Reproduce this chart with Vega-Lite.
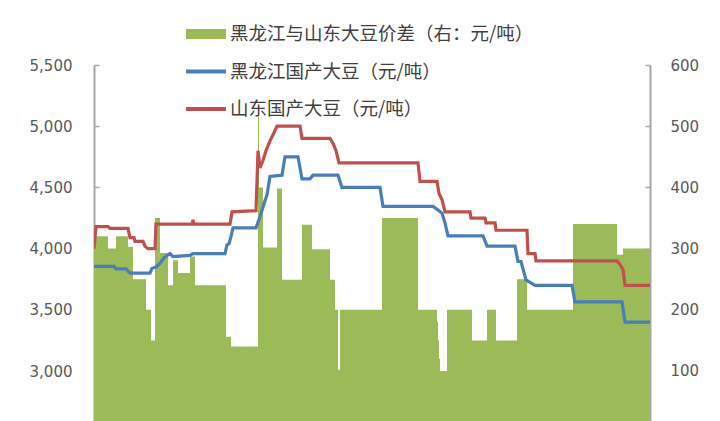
{
  "$schema": "https://vega.github.io/schema/vega-lite/v6.json",
  "width": 556,
  "height": 356,
  "autosize": {"type": "none"},
  "padding": {"left": 94, "top": 65, "right": 70, "bottom": 0},
  "background": "white",
  "config": {
    "view": {"stroke": null},
    "axis": {
      "labelFont": "DejaVu Sans",
      "labelFontSize": 15,
      "labelColor": "#595959",
      "domainColor": "#a6a6a6",
      "domainWidth": 2,
      "tickColor": "#a6a6a6",
      "tickWidth": 1.5,
      "grid": false,
      "title": null
    },
    "legend": {
      "labelFont": "Noto Sans CJK SC",
      "labelFontSize": 18.5,
      "labelColor": "#404040",
      "labelLimit": 500
    }
  },
  "datasets": {
    "spread": [
      {"t": 0, "v": 320}, {"t": 14, "v": 300}, {"t": 22, "v": 320}, {"t": 34, "v": 303},
      {"t": 39, "v": 250}, {"t": 52, "v": 200}, {"t": 57, "v": 150}, {"t": 61, "v": 350},
      {"t": 66, "v": 293}, {"t": 74, "v": 240}, {"t": 79, "v": 281}, {"t": 84, "v": 260},
      {"t": 96, "v": 287}, {"t": 101, "v": 240}, {"t": 132, "v": 156}, {"t": 137, "v": 140},
      {"t": 164, "v": 515}, {"t": 165, "v": 400}, {"t": 169, "v": 302}, {"t": 183, "v": 398},
      {"t": 188, "v": 249}, {"t": 208, "v": 339}, {"t": 218, "v": 299}, {"t": 236, "v": 249},
      {"t": 241, "v": 200}, {"t": 244, "v": 102}, {"t": 246, "v": 200}, {"t": 288, "v": 350},
      {"t": 324, "v": 200}, {"t": 343, "v": 180}, {"t": 344, "v": 150}, {"t": 345, "v": 120},
      {"t": 346, "v": 100}, {"t": 353, "v": 200}, {"t": 378, "v": 150}, {"t": 393, "v": 200},
      {"t": 402, "v": 150}, {"t": 423, "v": 250}, {"t": 433, "v": 200}, {"t": 479, "v": 340},
      {"t": 523, "v": 290}, {"t": 529, "v": 300}, {"t": 556, "v": 300}
    ],
    "lines": [
      {"s": "黑龙江国产大豆（元/吨）", "t": 0, "v": 3855},
      {"s": "黑龙江国产大豆（元/吨）", "t": 20, "v": 3855},
      {"s": "黑龙江国产大豆（元/吨）", "t": 22, "v": 3835},
      {"s": "黑龙江国产大豆（元/吨）", "t": 32, "v": 3835},
      {"s": "黑龙江国产大豆（元/吨）", "t": 36, "v": 3800},
      {"s": "黑龙江国产大豆（元/吨）", "t": 56, "v": 3800},
      {"s": "黑龙江国产大豆（元/吨）", "t": 58, "v": 3840},
      {"s": "黑龙江国产大豆（元/吨）", "t": 62, "v": 3850},
      {"s": "黑龙江国产大豆（元/吨）", "t": 66, "v": 3880},
      {"s": "黑龙江国产大豆（元/吨）", "t": 70, "v": 3925},
      {"s": "黑龙江国产大豆（元/吨）", "t": 76, "v": 3960},
      {"s": "黑龙江国产大豆（元/吨）", "t": 79, "v": 3935},
      {"s": "黑龙江国产大豆（元/吨）", "t": 96, "v": 3945},
      {"s": "黑龙江国产大豆（元/吨）", "t": 99, "v": 3960},
      {"s": "黑龙江国产大豆（元/吨）", "t": 131, "v": 3960},
      {"s": "黑龙江国产大豆（元/吨）", "t": 133, "v": 4030},
      {"s": "黑龙江国产大豆（元/吨）", "t": 135, "v": 4040},
      {"s": "黑龙江国产大豆（元/吨）", "t": 137, "v": 4100},
      {"s": "黑龙江国产大豆（元/吨）", "t": 139, "v": 4170},
      {"s": "黑龙江国产大豆（元/吨）", "t": 162, "v": 4170},
      {"s": "黑龙江国产大豆（元/吨）", "t": 166, "v": 4260},
      {"s": "黑龙江国产大豆（元/吨）", "t": 169, "v": 4340},
      {"s": "黑龙江国产大豆（元/吨）", "t": 173, "v": 4440},
      {"s": "黑龙江国产大豆（元/吨）", "t": 176, "v": 4590},
      {"s": "黑龙江国产大豆（元/吨）", "t": 188, "v": 4600},
      {"s": "黑龙江国产大豆（元/吨）", "t": 191, "v": 4750},
      {"s": "黑龙江国产大豆（元/吨）", "t": 204, "v": 4750},
      {"s": "黑龙江国产大豆（元/吨）", "t": 208, "v": 4570},
      {"s": "黑龙江国产大豆（元/吨）", "t": 216, "v": 4570},
      {"s": "黑龙江国产大豆（元/吨）", "t": 219, "v": 4600},
      {"s": "黑龙江国产大豆（元/吨）", "t": 244, "v": 4600},
      {"s": "黑龙江国产大豆（元/吨）", "t": 248, "v": 4500},
      {"s": "黑龙江国产大豆（元/吨）", "t": 286, "v": 4500},
      {"s": "黑龙江国产大豆（元/吨）", "t": 289, "v": 4345},
      {"s": "黑龙江国产大豆（元/吨）", "t": 339, "v": 4345},
      {"s": "黑龙江国产大豆（元/吨）", "t": 344, "v": 4315},
      {"s": "黑龙江国产大豆（元/吨）", "t": 348, "v": 4290},
      {"s": "黑龙江国产大豆（元/吨）", "t": 351, "v": 4210},
      {"s": "黑龙江国产大豆（元/吨）", "t": 354, "v": 4105},
      {"s": "黑龙江国产大豆（元/吨）", "t": 389, "v": 4105},
      {"s": "黑龙江国产大豆（元/吨）", "t": 393, "v": 4020},
      {"s": "黑龙江国产大豆（元/吨）", "t": 421, "v": 4020},
      {"s": "黑龙江国产大豆（元/吨）", "t": 424, "v": 3895},
      {"s": "黑龙江国产大豆（元/吨）", "t": 427, "v": 3895},
      {"s": "黑龙江国产大豆（元/吨）", "t": 432, "v": 3745},
      {"s": "黑龙江国产大豆（元/吨）", "t": 441, "v": 3700},
      {"s": "黑龙江国产大豆（元/吨）", "t": 478, "v": 3700},
      {"s": "黑龙江国产大豆（元/吨）", "t": 481, "v": 3565},
      {"s": "黑龙江国产大豆（元/吨）", "t": 528, "v": 3565},
      {"s": "黑龙江国产大豆（元/吨）", "t": 531, "v": 3400},
      {"s": "黑龙江国产大豆（元/吨）", "t": 556, "v": 3400},
      {"s": "山东国产大豆（元/吨）", "t": 0, "v": 4000},
      {"s": "山东国产大豆（元/吨）", "t": 2, "v": 4180},
      {"s": "山东国产大豆（元/吨）", "t": 14, "v": 4180},
      {"s": "山东国产大豆（元/吨）", "t": 16, "v": 4165},
      {"s": "山东国产大豆（元/吨）", "t": 34, "v": 4165},
      {"s": "山东国产大豆（元/吨）", "t": 36, "v": 4090},
      {"s": "山东国产大豆（元/吨）", "t": 40, "v": 4090},
      {"s": "山东国产大豆（元/吨）", "t": 41, "v": 4060},
      {"s": "山东国产大豆（元/吨）", "t": 49, "v": 4060},
      {"s": "山东国产大豆（元/吨）", "t": 51, "v": 4020},
      {"s": "山东国产大豆（元/吨）", "t": 54, "v": 4000},
      {"s": "山东国产大豆（元/吨）", "t": 61, "v": 4000},
      {"s": "山东国产大豆（元/吨）", "t": 62, "v": 4200},
      {"s": "山东国产大豆（元/吨）", "t": 98, "v": 4200},
      {"s": "山东国产大豆（元/吨）", "t": 99, "v": 4235},
      {"s": "山东国产大豆（元/吨）", "t": 100, "v": 4200},
      {"s": "山东国产大豆（元/吨）", "t": 136, "v": 4200},
      {"s": "山东国产大豆（元/吨）", "t": 138, "v": 4300},
      {"s": "山东国产大豆（元/吨）", "t": 162, "v": 4310},
      {"s": "山东国产大豆（元/吨）", "t": 164, "v": 4800},
      {"s": "山东国产大豆（元/吨）", "t": 166, "v": 4660},
      {"s": "山东国产大豆（元/吨）", "t": 169, "v": 4720},
      {"s": "山东国产大豆（元/吨）", "t": 172, "v": 4800},
      {"s": "山东国产大豆（元/吨）", "t": 176, "v": 4880},
      {"s": "山东国产大豆（元/吨）", "t": 179, "v": 4930},
      {"s": "山东国产大豆（元/吨）", "t": 183, "v": 5000},
      {"s": "山东国产大豆（元/吨）", "t": 206, "v": 5000},
      {"s": "山东国产大豆（元/吨）", "t": 208, "v": 4900},
      {"s": "山东国产大豆（元/吨）", "t": 236, "v": 4900},
      {"s": "山东国产大豆（元/吨）", "t": 239, "v": 4860},
      {"s": "山东国产大豆（元/吨）", "t": 242, "v": 4800},
      {"s": "山东国产大豆（元/吨）", "t": 245, "v": 4700},
      {"s": "山东国产大豆（元/吨）", "t": 324, "v": 4700},
      {"s": "山东国产大豆（元/吨）", "t": 326, "v": 4550},
      {"s": "山东国产大豆（元/吨）", "t": 343, "v": 4550},
      {"s": "山东国产大豆（元/吨）", "t": 345, "v": 4450},
      {"s": "山东国产大豆（元/吨）", "t": 348, "v": 4400},
      {"s": "山东国产大豆（元/吨）", "t": 351, "v": 4300},
      {"s": "山东国产大豆（元/吨）", "t": 376, "v": 4300},
      {"s": "山东国产大豆（元/吨）", "t": 377, "v": 4250},
      {"s": "山东国产大豆（元/吨）", "t": 391, "v": 4250},
      {"s": "山东国产大豆（元/吨）", "t": 392, "v": 4210},
      {"s": "山东国产大豆（元/吨）", "t": 401, "v": 4210},
      {"s": "山东国产大豆（元/吨）", "t": 402, "v": 4150},
      {"s": "山东国产大豆（元/吨）", "t": 433, "v": 4150},
      {"s": "山东国产大豆（元/吨）", "t": 434, "v": 3960},
      {"s": "山东国产大豆（元/吨）", "t": 441, "v": 3960},
      {"s": "山东国产大豆（元/吨）", "t": 442, "v": 3900},
      {"s": "山东国产大豆（元/吨）", "t": 523, "v": 3900},
      {"s": "山东国产大豆（元/吨）", "t": 526, "v": 3870},
      {"s": "山东国产大豆（元/吨）", "t": 529, "v": 3830},
      {"s": "山东国产大豆（元/吨）", "t": 531, "v": 3700},
      {"s": "山东国产大豆（元/吨）", "t": 556, "v": 3700}
    ]
  },
  "layer": [
    {
      "data": {"name": "spread"},
      "mark": {"type": "area", "interpolate": "step-after", "clip": true},
      "encoding": {
        "x": {"field": "t", "type": "quantitative", "axis": null, "scale": {"domain": [0, 556], "nice": false, "zero": false}},
        "y": {
          "field": "v", "type": "quantitative",
          "scale": {"domain": [18.3, 600], "nice": false, "zero": false},
          "axis": {"orient": "right", "values": [100, 200, 300, 400, 500, 600], "tickSize": -5, "labelPadding": 25}
        },
        "color": {
          "datum": "黑龙江与山东大豆价差（右：元/吨）",
          "type": "nominal",
          "title": null,
          "scale": {
            "domain": ["黑龙江与山东大豆价差（右：元/吨）", "黑龙江国产大豆（元/吨）", "山东国产大豆（元/吨）"],
            "range": ["#9bbb59", "#4a7ebb", "#c0504d"]
          },
          "legend": {
            "title": null,
            "orient": "none",
            "legendX": 102,
            "legendY": -41,
            "symbolSize": 400,
            "labelOffset": 14,
            "rowPadding": 17.5,
            "padding": 0,
            "encode": {
              "symbols": {
                "update": {
                  "shape": {"signal": "datum.index === 0 ? 'M-2,-0.5H2V0.5H-2Z' : 'M-2,-0.19H2V0.19H-2Z'"},
                  "fill": {"scale": "color", "field": "value"},
                  "strokeWidth": {"value": 0},
                  "opacity": {"value": 1},
                  "fillOpacity": {"value": 1}
                }
              }
            }
          }
        }
      }
    },
    {
      "data": {"name": "lines"},
      "mark": {"type": "line", "strokeWidth": 3.2, "clip": true},
      "encoding": {
        "x": {"field": "t", "type": "quantitative", "axis": null, "scale": {"domain": [0, 556], "nice": false, "zero": false}},
        "y": {
          "field": "v", "type": "quantitative",
          "scale": {"domain": [2592, 5500], "nice": false, "zero": false},
          "axis": {"orient": "left", "values": [3000, 3500, 4000, 4500, 5000, 5500], "format": ",.0f", "tickSize": -5, "labelPadding": 27}
        },
        "color": {"field": "s", "type": "nominal", "title": null}
      }
    }
  ],
  "resolve": {"scale": {"y": "independent"}}
}
